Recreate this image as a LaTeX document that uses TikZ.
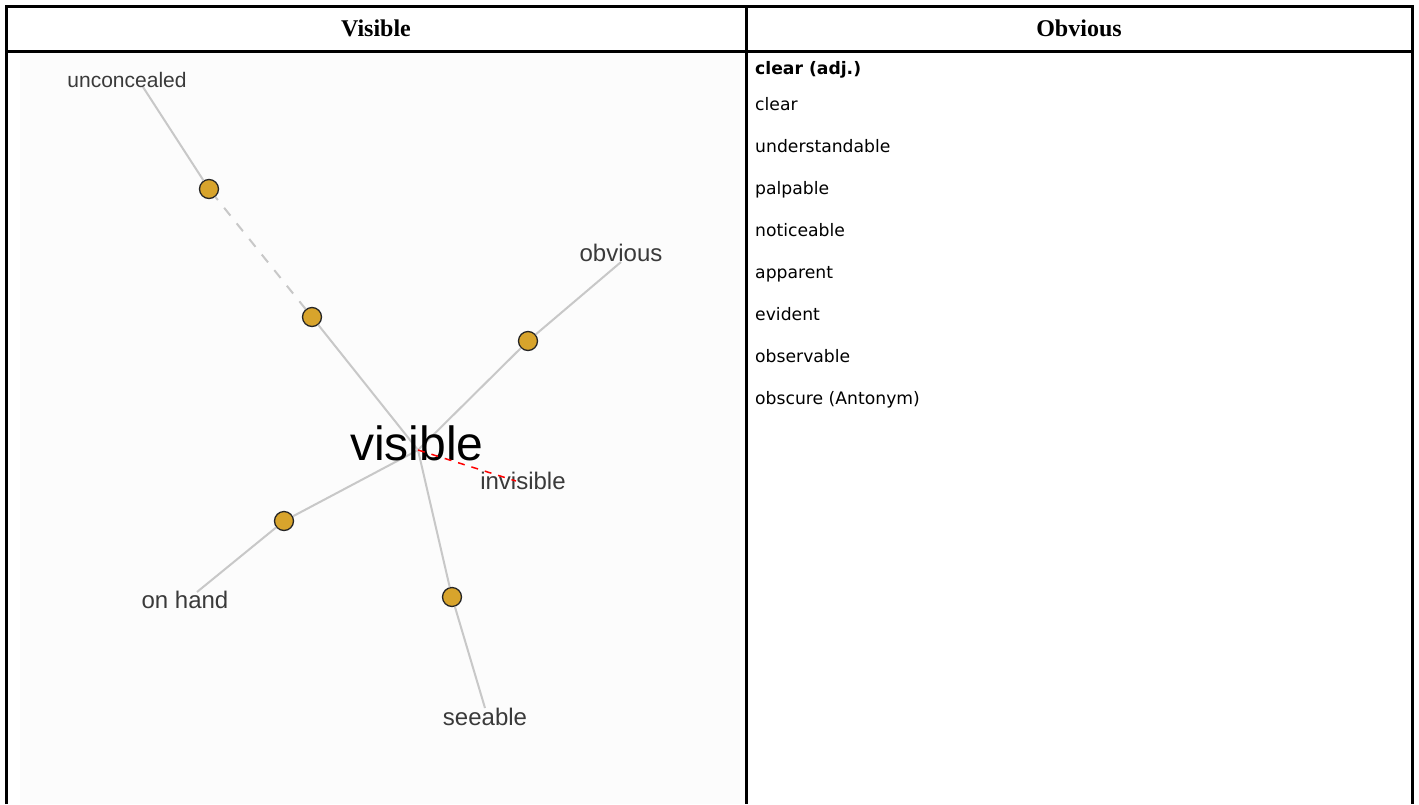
\documentclass[tikz,border=0pt]{standalone}
\usepackage{fontspec}
\setmainfont{Liberation Serif}
\newfontfamily\graphfont{Liberation Sans}
\newfontfamily\listfont{DejaVu Sans}
\definecolor{edgegray}{HTML}{C8C8C8}
\definecolor{dotgold}{HTML}{D8A42C}
\definecolor{labelgray}{HTML}{3A3A3A}
\definecolor{panelbg}{HTML}{FCFCFC}
\tikzset{
  edge/.style={draw=edgegray, line width=2pt},
  dashedge/.style={draw=edgegray, line width=2pt, dash pattern=on 10pt off 10pt},
  antedge/.style={draw=red, line width=1.5pt, dash pattern=on 7pt off 7pt},
  dot/.style={circle, draw=black!85, line width=1.3pt, fill=dotgold, minimum size=19pt, inner sep=0pt},
  lbl/.style={font=\graphfont\fontsize{24}{28}\selectfont, text=labelgray, inner sep=0pt},
  smalllbl/.style={font=\graphfont\fontsize{21}{25}\selectfont, text=labelgray, inner sep=0pt},
  hublbl/.style={font=\graphfont\fontsize{48}{52}\selectfont, text=black, inner sep=0pt},
  listitem/.style={anchor=base west, font=\listfont\fontsize{17.2}{20}\selectfont, inner sep=0pt},
  header/.style={font=\bfseries\fontsize{24}{28}\selectfont, inner sep=0pt},
  border/.style={draw=black, line width=3pt}
}
\begin{document}
\begin{tikzpicture}[x=1pt,y=-1pt]
\useasboundingbox (0,0) rectangle (1419,804);
\fill[white] (0,0) rectangle (1419,804);
\fill[panelbg] (20,53) rectangle (740,804);

% graph nodes
\coordinate (hub) at (418,450);
\node[dot] (d1) at (209,189) {};
\node[dot] (d2) at (312,317) {};
\node[dot] (d3) at (528,341) {};
\node[dot] (d4) at (284,521) {};
\node[dot] (d5) at (452,597) {};
\coordinate (uncA) at (143,87);
\coordinate (obvA) at (621,262);
\coordinate (ohA) at (197,592);
\coordinate (seeA) at (485,708);
\coordinate (invA) at (516,481);

% edges
\draw[edge] (hub) -- (d2);
\draw[dashedge] (d2) -- (d1);
\draw[edge] (d1) -- (uncA);
\draw[edge] (hub) -- (d3);
\draw[edge] (d3) -- (obvA);
\draw[edge] (hub) -- (d4);
\draw[edge] (d4) -- (ohA);
\draw[edge] (hub) -- (d5);
\draw[edge] (d5) -- (seeA);

% labels
\node[hublbl] (visible) at (417,443) {visible};
\node[smalllbl] (unconcealed) at (127,80) {unconcealed};
\node[lbl] (obvious) at (621,253) {obvious};
\node[lbl] (onhand) at (185,600) {on hand};
\node[lbl] (seeable) at (485,717) {seeable};
\node[lbl] (invisible) at (523,481) {invisible};
\draw[antedge] (hub) -- (invA);

% right list
\node[listitem, font=\listfont\bfseries\fontsize{17.2}{20}\selectfont] (l0) at (755,74) {clear (adj.)};
\node[listitem] (l1) at (755,110) {clear};
\node[listitem] (l2) at (755,152) {understandable};
\node[listitem] (l3) at (755,194) {palpable};
\node[listitem] (l4) at (755,236) {noticeable};
\node[listitem] (l5) at (755,278) {apparent};
\node[listitem] (l6) at (755,320) {evident};
\node[listitem] (l7) at (755,362) {observable};
\node[listitem] (l8) at (755,404) {obscure (Antonym)};

% headers
\node[header] (hv) at (376,28) {Visible};
\node[header] (ho) at (1079,28) {Obvious};

% table borders
\draw[border] (6,804) -- (6,6.5) -- (1412,6.5) -- (1412,804);
\draw[border] (6,51) -- (1412,51);
\draw[border] (746.5,6.5) -- (746.5,804);
\end{tikzpicture}
\end{document}
